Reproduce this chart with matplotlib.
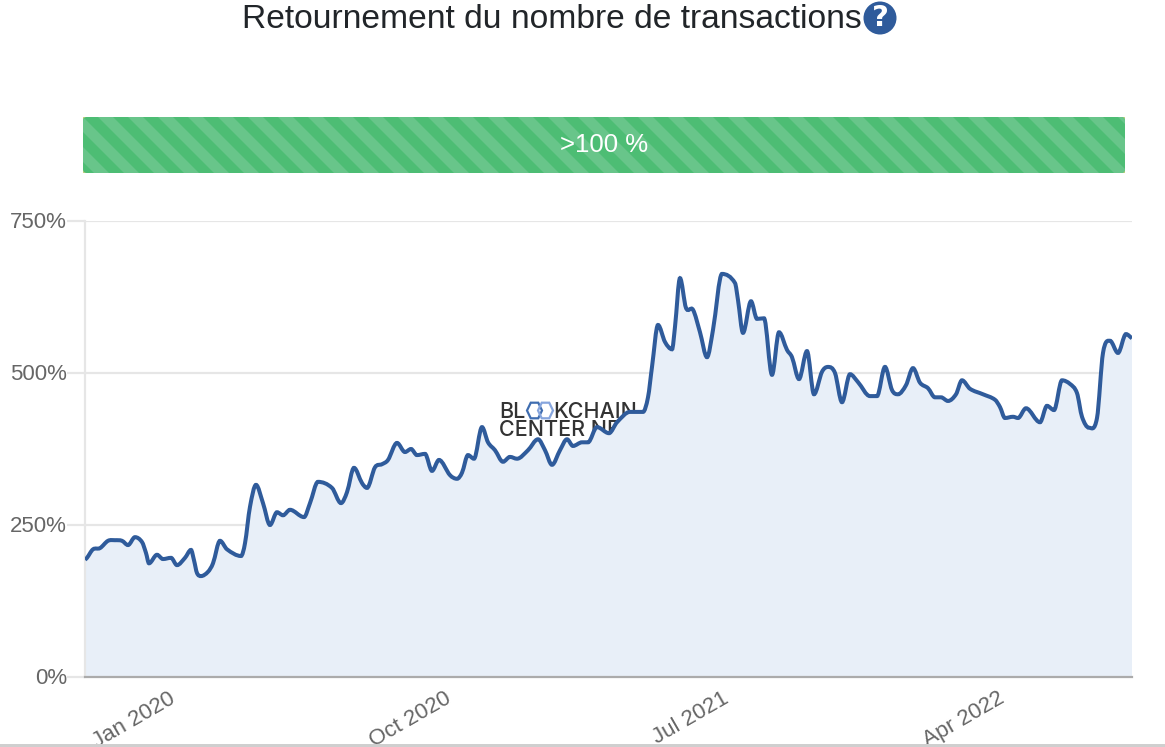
import numpy as np
import matplotlib
matplotlib.use("Agg")
import matplotlib.pyplot as plt
from matplotlib.path import Path
from matplotlib.patches import PathPatch, Rectangle, FancyBboxPatch, Circle, Polygon
from matplotlib.transforms import ScaledTranslation

plt.rcParams['font.family'] = ['Liberation Sans', 'DejaVu Sans']

TITLE = "Retournement du nombre de transactions"
BAR_LABEL = ">100 %"
y_ticks = [0, 250, 500, 750]
y_labels = ["0%", "250%", "500%", "750%"]
x_tick_days = [83, 359, 637, 913]
x_labels = ["Jan 2020", "Oct 2020", "Jul 2021", "Apr 2022"]

days = [0, 2, 8, 15, 23, 30, 37, 43, 50, 57, 61, 64, 72, 78, 86, 92, 100, 106, 109, 112, 116, 123, 128, 135, 142,
        156, 160, 165, 171, 178, 185, 192, 198, 205, 219, 225, 233, 247, 256, 262, 269, 277, 282, 290, 297, 303,
        312, 320, 326, 332, 340, 347, 354, 365, 372, 377, 383, 389, 397, 403, 410, 418, 425, 432, 443, 453, 460,
        467, 475, 482, 488, 497, 503, 512, 524, 532, 545, 558, 563, 567, 573, 580, 587, 590, 595, 601, 608, 615,
        622, 628, 637, 650, 653, 658, 666, 672, 679, 687, 694, 702, 707, 714, 722, 729, 737, 743, 750, 757, 765,
        773, 785, 792, 800, 807, 813, 821, 828, 835, 843, 850, 856, 863, 871, 877, 885, 898, 910, 915, 920, 928,
        933, 941, 955, 962, 969, 977, 985, 992, 997, 1004, 1012, 1018, 1025, 1033, 1041, 1047]
turnover = [193, 196, 210, 212, 224, 225, 224, 217, 230, 222, 204, 187, 201, 194, 196, 184, 196, 209, 192, 171, 166,
            173, 187, 224, 210, 199, 220, 280, 316, 286, 250, 271, 266, 275, 263, 286, 321, 311, 286, 304, 344, 319,
            311, 345, 350, 357, 385, 370, 375, 365, 367, 339, 357, 332, 326, 336, 365, 359, 411, 386, 373, 354, 362,
            359, 373, 391, 373, 349, 373, 391, 380, 386, 386, 411, 401, 419, 436, 436, 460, 510, 579, 551, 539, 576,
            656, 607, 604, 567, 526, 571, 663, 648, 620, 566, 618, 589, 590, 497, 567, 538, 526, 490, 536, 465, 502,
            510, 500, 452, 498, 485, 462, 462, 510, 472, 465, 480, 508, 484, 475, 460, 460, 454, 465, 488, 474, 465,
            456, 444, 426, 428, 426, 442, 419, 446, 439, 488, 482, 467, 428, 410, 426, 533, 553, 533, 564, 557]

W, H = 1165, 747
fig = plt.figure(figsize=(W / 100, H / 100), dpi=100, facecolor="white")

def pixel_axes(z):
    a = fig.add_axes([0, 0, 1, 1], zorder=z)
    a.set_xlim(0, W)
    a.set_ylim(H, 0)
    a.axis("off")
    a.patch.set_alpha(0)
    return a

back = pixel_axes(0)
front = pixel_axes(2)

# watermark (lies under the area fill)
wm_font = dict(family=["Inter", "DejaVu Sans"], color="#333333", fontsize=15.5, fontweight="medium", va="center")
back.text(499, 411.5, "BL", **wm_font)
back.text(553, 411.5, "KCHAIN", **wm_font)
back.text(499, 430.5, "CENTER NET", **wm_font)
for cx, col in [(534.5, "#3f6db0"), (545.5, "#86a5dd")]:
    ang = np.deg2rad(np.arange(0, 360, 60))
    back.add_patch(Polygon(np.c_[cx + 7.5 * np.cos(ang), 410.5 + 9 * np.sin(ang)], closed=True, fill=False,
                           ec=col, lw=1.6))

# main chart
ax = fig.add_axes([85 / W, 1 - 677 / H, 1047 / W, 456 / H], zorder=1)
ax.patch.set_alpha(0)
ax.set_xlim(0, 1047)
ax.set_ylim(0, 750)

x = np.asarray(days, float)
y = np.asarray(turnover, float)
slope = np.zeros_like(y)
slope[1:-1] = (y[2:] - y[:-2]) / (x[2:] - x[:-2])
d = np.diff(y)
slope[1:-1][d[:-1] * d[1:] <= 0] = 0
slope[0], slope[-1] = d[0] / (x[1] - x[0]), d[-1] / (x[-1] - x[-2])
verts = [(x[0], y[0])]
codes = [Path.MOVETO]
for i in range(len(x) - 1):
    h = x[i + 1] - x[i]
    verts += [(x[i] + h / 3, y[i] + slope[i] * h / 3),
              (x[i + 1] - h / 3, y[i + 1] - slope[i + 1] * h / 3),
              (x[i + 1], y[i + 1])]
    codes += [Path.CURVE4] * 3
fill_path = Path(verts + [(x[-1], 0), (x[0], 0), (x[0], y[0])],
                 codes + [Path.LINETO, Path.LINETO, Path.CLOSEPOLY])
ax.add_patch(PathPatch(fill_path, fc="#e8eff8", ec="none", zorder=2))
ax.add_patch(PathPatch(Path(verts, codes), fc="none", ec="#2f5b9b", lw=2.9, zorder=3, capstyle="butt"))

ax.set_axisbelow(True)
ax.set_yticks(y_ticks, y_labels)
ax.grid(axis="y", color="#e6e6e6", lw=1.6)
ax.tick_params(axis="y", length=13, width=1.6, color="#e6e6e6", labelsize=16, labelcolor="#666666", pad=0)
ax.get_yticklines()[0].set_color("#b0b0b0")
up = ScaledTranslation(0, 1 / 100, fig.dpi_scale_trans)
for t in ax.get_yticklabels():
    t.set_transform(t.get_transform() + up)
ax.set_xticks(x_tick_days, x_labels, rotation=30, ha="right", rotation_mode="anchor")
ax.tick_params(axis="x", length=0, labelsize=16, labelcolor="#666666", pad=8)
for s in ["top", "right"]:
    ax.spines[s].set_visible(False)
ax.spines["left"].set_color("#e6e6e6")
ax.spines["left"].set_linewidth(1.6)
ax.spines["bottom"].set_color("#ababab")
ax.spines["bottom"].set_linewidth(1.6)
ax.spines["bottom"].set_zorder(5)

# title and help icon
front.text(551.5, 19, TITLE, ha="center", va="center", fontsize=24.2, color="#212529")
front.add_patch(Circle((880, 18), 16.5, fc="#2f5b9b", ec="none"))
front.text(880, 18.5, "?", ha="center", va="center", fontsize=21, fontweight="bold", color="white",
           family=["DejaVu Sans"])

# striped progress bar
bx0, bx1, by0, by1 = 83, 1125, 117, 173
front.add_patch(Rectangle((bx0, by0), bx1 - bx0, by1 - by0, fc="#c6cf7f", ec="none", zorder=1))
clip = FancyBboxPatch((bx0, by0), bx1 - bx0, by1 - by0, boxstyle="round,pad=0,rounding_size=4",
                      fc="#4dbd74", ec="none", zorder=2)
front.add_patch(clip)
period = 30
for s in range(bx0 - 75, bx1 + 30, period):
    st = Polygon([(s, by0), (s + period / 2, by0), (s + period / 2 + 56, by1), (s + 56, by1)],
                 closed=True, fc="#68c58a", ec="none", zorder=3)
    front.add_patch(st)
    st.set_clip_path(clip)
front.text(604, 145.5, BAR_LABEL, ha="center", va="center", fontsize=18.5, color="white", zorder=4)

# page edge at the bottom
front.add_patch(Rectangle((0, 743.7), W, 4, fc="#cfcfcf", ec="none", zorder=6))

fig.savefig("out.png", dpi=100)
